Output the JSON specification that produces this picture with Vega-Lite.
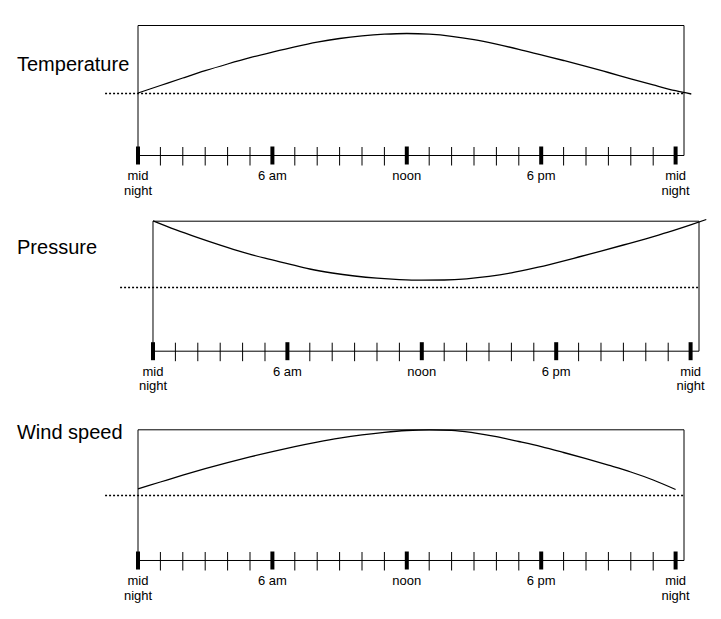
{
  "$schema": "https://vega.github.io/schema/vega-lite/v6.json",
  "background": "white",
  "padding": {"left": 16, "top": 24.5, "right": 5, "bottom": 5},
  "spacing": 65.7,
  "bounds": "flush",
  "datasets": {
    "hours": [
      {"hour": 0}, {"hour": 1}, {"hour": 2}, {"hour": 3}, {"hour": 4}, {"hour": 5}, {"hour": 6},
      {"hour": 7}, {"hour": 8}, {"hour": 9}, {"hour": 10}, {"hour": 11}, {"hour": 12},
      {"hour": 13}, {"hour": 14}, {"hour": 15}, {"hour": 16}, {"hour": 17}, {"hour": 18},
      {"hour": 19}, {"hour": 20}, {"hour": 21}, {"hour": 22}, {"hour": 23}, {"hour": 24}
    ],
    "labels": [
      {"hour": 0, "label": "mid\nnight"},
      {"hour": 6, "label": "6 am"},
      {"hour": 12, "label": "noon"},
      {"hour": 18, "label": "6 pm"},
      {"hour": 24, "label": "mid\nnight"}
    ],
    "temperature": [
      {"hour": 0, "value": 62.5}, {"hour": 1, "value": 70}, {"hour": 2, "value": 77.5},
      {"hour": 3, "value": 84.8}, {"hour": 4, "value": 91.5}, {"hour": 5, "value": 97.8},
      {"hour": 6, "value": 103.4}, {"hour": 7, "value": 108.7}, {"hour": 8, "value": 113.4},
      {"hour": 9, "value": 117}, {"hour": 10, "value": 119.6}, {"hour": 11, "value": 121.3},
      {"hour": 12, "value": 122}, {"hour": 13, "value": 121.3}, {"hour": 14, "value": 119.2},
      {"hour": 15, "value": 115.8}, {"hour": 16, "value": 111.3}, {"hour": 17, "value": 106.2},
      {"hour": 18, "value": 100.6}, {"hour": 19, "value": 95}, {"hour": 20, "value": 89.2},
      {"hour": 21, "value": 83}, {"hour": 22, "value": 76.7}, {"hour": 23, "value": 70.6},
      {"hour": 24, "value": 64.8}, {"hour": 24.7, "value": 61.5}
    ],
    "pressure": [
      {"hour": 0, "value": 130.3}, {"hour": 1, "value": 121.5}, {"hour": 2, "value": 113.5},
      {"hour": 3, "value": 106}, {"hour": 4, "value": 99}, {"hour": 5, "value": 93},
      {"hour": 6, "value": 87.6}, {"hour": 7, "value": 82.2}, {"hour": 8, "value": 78.2},
      {"hour": 9, "value": 75.2}, {"hour": 10, "value": 73}, {"hour": 11, "value": 71.6},
      {"hour": 12, "value": 71}, {"hour": 13, "value": 71.2}, {"hour": 14, "value": 72.4},
      {"hour": 15, "value": 74.8}, {"hour": 16, "value": 78.3}, {"hour": 17, "value": 83},
      {"hour": 18, "value": 88.4}, {"hour": 19, "value": 94.2}, {"hour": 20, "value": 100.1},
      {"hour": 21, "value": 106.2}, {"hour": 22, "value": 112.4}, {"hour": 23, "value": 119},
      {"hour": 24, "value": 126.3}, {"hour": 24.7, "value": 131.7}
    ],
    "wind": [
      {"hour": 0, "value": 71.7}, {"hour": 1, "value": 78.5}, {"hour": 2, "value": 85.3},
      {"hour": 3, "value": 91.8}, {"hour": 4, "value": 97.9}, {"hour": 5, "value": 103.6},
      {"hour": 6, "value": 108.9}, {"hour": 7, "value": 113.8}, {"hour": 8, "value": 118.3},
      {"hour": 9, "value": 122.3}, {"hour": 10, "value": 125.6}, {"hour": 11, "value": 128.2},
      {"hour": 12, "value": 130}, {"hour": 13, "value": 130.7}, {"hour": 14, "value": 130.2},
      {"hour": 15, "value": 127.6}, {"hour": 16, "value": 123.8}, {"hour": 17, "value": 119},
      {"hour": 18, "value": 113.9}, {"hour": 19, "value": 108}, {"hour": 20, "value": 101.8},
      {"hour": 21, "value": 95.3}, {"hour": 22, "value": 88.5}, {"hour": 23, "value": 80.5},
      {"hour": 24, "value": 71}
    ]
  },
  "vconcat": [
    {
      "width": 546,
      "height": 130,
      "layer": [
        {
          "data": {"values": [{}]},
          "mark": {"type": "rect", "filled": false, "color": "black", "strokeWidth": 1},
          "encoding": {
            "x": {"datum": 0, "type": "quantitative", "scale": {"domain": [0, 24.375], "nice": false, "zero": false}, "axis": null},
            "x2": {"datum": 24.375},
            "y": {"datum": 0, "type": "quantitative", "scale": {"domain": [0, 130], "nice": false, "zero": false}, "axis": null},
            "y2": {"datum": 130}
          }
        },
        {
          "data": {"values": [{"level": 62}]},
          "mark": {"type": "rule", "color": "black", "strokeWidth": 1.4, "strokeDash": [2, 2]},
          "encoding": {
            "x": {"datum": -1.47, "type": "quantitative", "scale": {"domain": [0, 24.375], "nice": false, "zero": false}, "axis": null},
            "x2": {"datum": 24.375},
            "y": {"field": "level", "type": "quantitative", "scale": {"domain": [0, 130], "nice": false, "zero": false}, "axis": null}
          }
        },
        {
          "data": {"name": "temperature"},
          "mark": {"type": "line", "color": "black", "strokeWidth": 1.3, "interpolate": "monotone"},
          "encoding": {
            "x": {"field": "hour", "type": "quantitative", "scale": {"domain": [0, 24.375], "nice": false, "zero": false}, "axis": null},
            "y": {"field": "value", "type": "quantitative", "scale": {"domain": [0, 130], "nice": false, "zero": false}, "axis": null}
          }
        },
        {
          "data": {"name": "hours"},
          "transform": [{"filter": "datum.hour % 6 != 0"}],
          "mark": {"type": "rule", "color": "black", "strokeWidth": 1},
          "encoding": {
            "x": {"field": "hour", "type": "quantitative", "scale": {"domain": [0, 24.375], "nice": false, "zero": false}, "axis": null},
            "y": {"datum": -10, "type": "quantitative", "scale": {"domain": [0, 130], "nice": false, "zero": false}, "axis": null},
            "y2": {"datum": 8.5}
          }
        },
        {
          "data": {"name": "hours"},
          "transform": [{"filter": "datum.hour % 6 == 0"}],
          "mark": {"type": "rule", "color": "black", "strokeWidth": 4},
          "encoding": {
            "x": {"field": "hour", "type": "quantitative", "scale": {"domain": [0, 24.375], "nice": false, "zero": false}, "axis": null},
            "y": {"datum": -9, "type": "quantitative", "scale": {"domain": [0, 130], "nice": false, "zero": false}, "axis": null},
            "y2": {"datum": 9}
          }
        },
        {
          "data": {"name": "labels"},
          "mark": {"type": "text", "align": "center", "baseline": "alphabetic", "lineBreak": "\n", "lineHeight": 14.5, "font": "Liberation Sans", "fontSize": 13, "color": "black"},
          "encoding": {
            "x": {"field": "hour", "type": "quantitative", "scale": {"domain": [0, 24.375], "nice": false, "zero": false}, "axis": null},
            "y": {"datum": -24.5, "type": "quantitative", "scale": {"domain": [0, 130], "nice": false, "zero": false}, "axis": null},
            "text": {"field": "label"}
          }
        },
        {
          "data": {"values": [{"name": "Temperature"}]},
          "mark": {"type": "text", "align": "left", "baseline": "alphabetic", "font": "Liberation Sans", "fontSize": 20, "color": "black"},
          "encoding": {
            "x": {"datum": -5.402, "type": "quantitative", "scale": {"domain": [0, 24.375], "nice": false, "zero": false}, "axis": null},
            "y": {"datum": 85, "type": "quantitative", "scale": {"domain": [0, 130], "nice": false, "zero": false}, "axis": null},
            "text": {"field": "name"}
          }
        }
      ]
    },
    {
      "width": 561,
      "height": 130,
      "layer": [
        {
          "data": {"values": [{}]},
          "mark": {"type": "rect", "filled": false, "color": "black", "strokeWidth": 1},
          "encoding": {
            "x": {"datum": 0, "type": "quantitative", "scale": {"domain": [-0.6696, 24.375], "nice": false, "zero": false}, "axis": null},
            "x2": {"datum": 24.375},
            "y": {"datum": 0, "type": "quantitative", "scale": {"domain": [0, 130], "nice": false, "zero": false}, "axis": null},
            "y2": {"datum": 130}
          }
        },
        {
          "data": {"values": [{"level": 63.7}]},
          "mark": {"type": "rule", "color": "black", "strokeWidth": 1.4, "strokeDash": [2, 2]},
          "encoding": {
            "x": {"datum": -1.47, "type": "quantitative", "scale": {"domain": [-0.6696, 24.375], "nice": false, "zero": false}, "axis": null},
            "x2": {"datum": 24.375},
            "y": {"field": "level", "type": "quantitative", "scale": {"domain": [0, 130], "nice": false, "zero": false}, "axis": null}
          }
        },
        {
          "data": {"name": "pressure"},
          "mark": {"type": "line", "color": "black", "strokeWidth": 1.3, "interpolate": "monotone"},
          "encoding": {
            "x": {"field": "hour", "type": "quantitative", "scale": {"domain": [-0.6696, 24.375], "nice": false, "zero": false}, "axis": null},
            "y": {"field": "value", "type": "quantitative", "scale": {"domain": [0, 130], "nice": false, "zero": false}, "axis": null}
          }
        },
        {
          "data": {"name": "hours"},
          "transform": [{"filter": "datum.hour % 6 != 0"}],
          "mark": {"type": "rule", "color": "black", "strokeWidth": 1},
          "encoding": {
            "x": {"field": "hour", "type": "quantitative", "scale": {"domain": [-0.6696, 24.375], "nice": false, "zero": false}, "axis": null},
            "y": {"datum": -10, "type": "quantitative", "scale": {"domain": [0, 130], "nice": false, "zero": false}, "axis": null},
            "y2": {"datum": 8.5}
          }
        },
        {
          "data": {"name": "hours"},
          "transform": [{"filter": "datum.hour % 6 == 0"}],
          "mark": {"type": "rule", "color": "black", "strokeWidth": 4},
          "encoding": {
            "x": {"field": "hour", "type": "quantitative", "scale": {"domain": [-0.6696, 24.375], "nice": false, "zero": false}, "axis": null},
            "y": {"datum": -9, "type": "quantitative", "scale": {"domain": [0, 130], "nice": false, "zero": false}, "axis": null},
            "y2": {"datum": 9}
          }
        },
        {
          "data": {"name": "labels"},
          "mark": {"type": "text", "align": "center", "baseline": "alphabetic", "lineBreak": "\n", "lineHeight": 14.5, "font": "Liberation Sans", "fontSize": 13, "color": "black"},
          "encoding": {
            "x": {"field": "hour", "type": "quantitative", "scale": {"domain": [-0.6696, 24.375], "nice": false, "zero": false}, "axis": null},
            "y": {"datum": -24.5, "type": "quantitative", "scale": {"domain": [0, 130], "nice": false, "zero": false}, "axis": null},
            "text": {"field": "label"}
          }
        },
        {
          "data": {"values": [{"name": "Pressure"}]},
          "mark": {"type": "text", "align": "left", "baseline": "alphabetic", "font": "Liberation Sans", "fontSize": 20, "color": "black"},
          "encoding": {
            "x": {"datum": -6.071, "type": "quantitative", "scale": {"domain": [-0.6696, 24.375], "nice": false, "zero": false}, "axis": null},
            "y": {"datum": 97.7, "type": "quantitative", "scale": {"domain": [0, 130], "nice": false, "zero": false}, "axis": null},
            "text": {"field": "name"}
          }
        }
      ]
    },
    {
      "width": 546,
      "height": 143.6,
      "layer": [
        {
          "data": {"values": [{}]},
          "mark": {"type": "rect", "filled": false, "color": "black", "strokeWidth": 1},
          "encoding": {
            "x": {"datum": 0, "type": "quantitative", "scale": {"domain": [0, 24.375], "nice": false, "zero": false}, "axis": null},
            "x2": {"datum": 24.375},
            "y": {"datum": 0, "type": "quantitative", "scale": {"domain": [0, 143.6], "nice": false, "zero": false}, "axis": null},
            "y2": {"datum": 130.7}
          }
        },
        {
          "data": {"values": [{"level": 65}]},
          "mark": {"type": "rule", "color": "black", "strokeWidth": 1.4, "strokeDash": [2, 2]},
          "encoding": {
            "x": {"datum": -1.47, "type": "quantitative", "scale": {"domain": [0, 24.375], "nice": false, "zero": false}, "axis": null},
            "x2": {"datum": 24.375},
            "y": {"field": "level", "type": "quantitative", "scale": {"domain": [0, 143.6], "nice": false, "zero": false}, "axis": null}
          }
        },
        {
          "data": {"name": "wind"},
          "mark": {"type": "line", "color": "black", "strokeWidth": 1.3, "interpolate": "monotone"},
          "encoding": {
            "x": {"field": "hour", "type": "quantitative", "scale": {"domain": [0, 24.375], "nice": false, "zero": false}, "axis": null},
            "y": {"field": "value", "type": "quantitative", "scale": {"domain": [0, 143.6], "nice": false, "zero": false}, "axis": null}
          }
        },
        {
          "data": {"name": "hours"},
          "transform": [{"filter": "datum.hour % 6 != 0"}],
          "mark": {"type": "rule", "color": "black", "strokeWidth": 1},
          "encoding": {
            "x": {"field": "hour", "type": "quantitative", "scale": {"domain": [0, 24.375], "nice": false, "zero": false}, "axis": null},
            "y": {"datum": -10, "type": "quantitative", "scale": {"domain": [0, 143.6], "nice": false, "zero": false}, "axis": null},
            "y2": {"datum": 8.5}
          }
        },
        {
          "data": {"name": "hours"},
          "transform": [{"filter": "datum.hour % 6 == 0"}],
          "mark": {"type": "rule", "color": "black", "strokeWidth": 4},
          "encoding": {
            "x": {"field": "hour", "type": "quantitative", "scale": {"domain": [0, 24.375], "nice": false, "zero": false}, "axis": null},
            "y": {"datum": -9, "type": "quantitative", "scale": {"domain": [0, 143.6], "nice": false, "zero": false}, "axis": null},
            "y2": {"datum": 9}
          }
        },
        {
          "data": {"name": "labels"},
          "mark": {"type": "text", "align": "center", "baseline": "alphabetic", "lineBreak": "\n", "lineHeight": 14.5, "font": "Liberation Sans", "fontSize": 13, "color": "black"},
          "encoding": {
            "x": {"field": "hour", "type": "quantitative", "scale": {"domain": [0, 24.375], "nice": false, "zero": false}, "axis": null},
            "y": {"datum": -24.5, "type": "quantitative", "scale": {"domain": [0, 143.6], "nice": false, "zero": false}, "axis": null},
            "text": {"field": "label"}
          }
        },
        {
          "data": {"values": [{"name": "Wind speed"}]},
          "mark": {"type": "text", "align": "left", "baseline": "alphabetic", "font": "Liberation Sans", "fontSize": 20, "color": "black"},
          "encoding": {
            "x": {"datum": -5.402, "type": "quantitative", "scale": {"domain": [0, 24.375], "nice": false, "zero": false}, "axis": null},
            "y": {"datum": 121.7, "type": "quantitative", "scale": {"domain": [0, 143.6], "nice": false, "zero": false}, "axis": null},
            "text": {"field": "name"}
          }
        }
      ]
    }
  ],
  "config": {
    "view": {"stroke": null}
  }
}
